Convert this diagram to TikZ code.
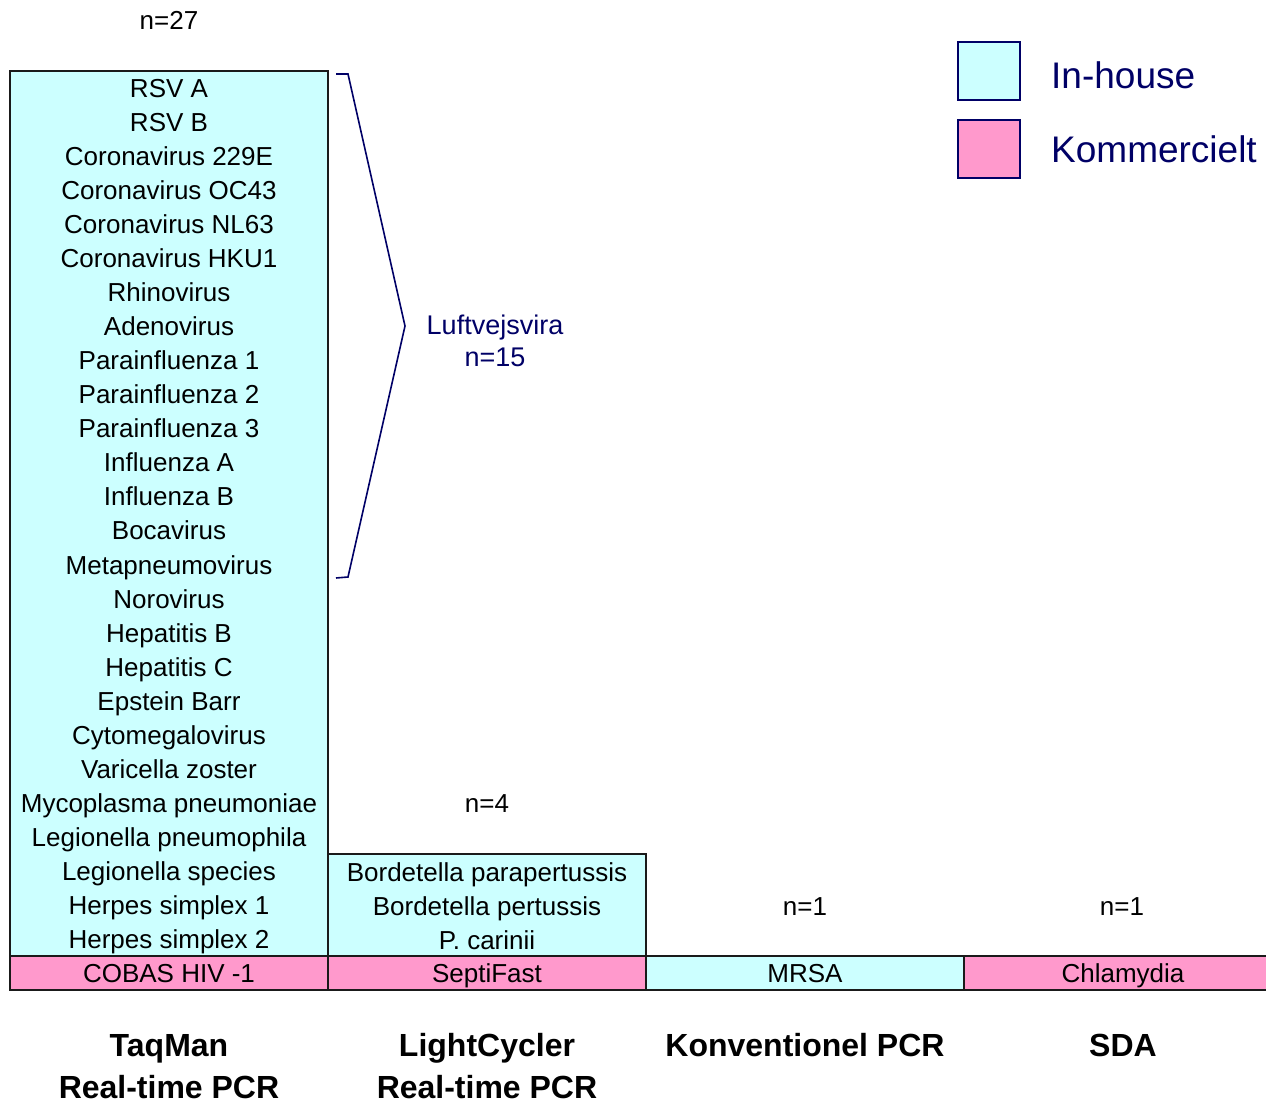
\documentclass[tikz,border=0pt]{standalone}
\usepackage{fontspec}
\setmainfont{Liberation Sans}
\definecolor{inhouse}{HTML}{CCFFFF}
\definecolor{komm}{HTML}{FF99CC}
\definecolor{navyc}{HTML}{000066}
\definecolor{edge}{HTML}{1A1A1A}
\begin{document}
\begin{tikzpicture}[x=1pt,y=-1pt,
  cell/.style={draw=edge,line width=1.6pt,inner sep=0pt,outer sep=0pt},
  item/.style={font=\fontsize{26}{30}\selectfont,text=black,inner sep=0pt,anchor=base},
  count/.style={font=\fontsize{26}{30}\selectfont,text=black,inner sep=0pt,anchor=base},
  method/.style={font=\bfseries\fontsize{32}{42}\selectfont,align=center,inner sep=0pt,anchor=base},
  legbox/.style={draw=navyc,line width=1.6pt,minimum width=62pt,minimum height=58pt,inner sep=0pt},
  legtext/.style={font=\fontsize{37}{40}\selectfont,text=navyc,anchor=base west,inner sep=0pt}]
\useasboundingbox (0,0) rectangle (1266,1103);
% column boxes
\path[cell,fill=inhouse] (10,71) rectangle (328,956);
\path[cell,fill=komm] (10,956) rectangle (328,990);
\path[cell,fill=inhouse] (328,854) rectangle (646,956);
\path[cell,fill=komm] (328,956) rectangle (646,990);
\path[cell,fill=inhouse] (646,956) rectangle (964,990);
\path[cell,fill=komm] (964,956) rectangle (1272,990);
% column 1 items
\foreach \t [count=\i from 0] in {RSV A,RSV B,Coronavirus 229E,Coronavirus OC43,Coronavirus NL63,Coronavirus HKU1,Rhinovirus,Adenovirus,Parainfluenza 1,Parainfluenza 2,Parainfluenza 3,Influenza A,Influenza B,Bocavirus,Metapneumovirus,Norovirus,Hepatitis B,Hepatitis C,Epstein Barr,Cytomegalovirus,Varicella zoster,Mycoplasma pneumoniae,Legionella pneumophila,Legionella species,Herpes simplex 1,Herpes simplex 2}
  \node[item] (a\i) at (169,{97.3+34.05*\i}) {\t};
\node[item] (a26) at (169,982.3) {COBAS HIV -1};
% column 2 items
\node[item] (b0) at (487,881.3) {Bordetella parapertussis};
\node[item] (b1) at (487,915.3) {Bordetella pertussis};
\node[item] (b2) at (487,949.3) {P. carinii};
\node[item] (b3) at (487,982.3) {SeptiFast};
% column 3 and 4
\node[item] (c0) at (805,982.3) {MRSA};
\node[item] (d0) at (1123,982.3) {Chlamydia};
% counts
\node[count] (n1) at (169,29.3) {n=27};
\node[count] (n2) at (487,812.3) {n=4};
\node[count] (n3) at (805,915.3) {n=1};
\node[count] (n4) at (1122,915.3) {n=1};
% methods
\node[method] (m1) at (169,1056) {TaqMan};
\node[method] (m1b) at (169,1098) {Real-time PCR};
\node[method] (m2) at (487,1056) {LightCycler};
\node[method] (m2b) at (487,1098) {Real-time PCR};
\node[method] (m3) at (805,1056) {Konventionel PCR};
\node[method] (m4) at (1123,1056) {SDA};
% brace
\coordinate (br1) at (336,74);
\coordinate (br2) at (348,74);
\coordinate (brt) at (405,326);
\coordinate (br3) at (348,577);
\coordinate (br4) at (336,578);
\draw[navyc,line width=1.6pt,line join=miter] (br1) -- (br2) -- (brt) -- (br3) -- (br4);
\node[font=\fontsize{27}{32}\selectfont,text=navyc,inner sep=0pt,anchor=base] (lv) at (495,334.5) {Luftvejsvira};
\node[font=\fontsize{27}{32}\selectfont,text=navyc,inner sep=0pt,anchor=base] (lv2) at (495,366.5) {n=15};
% legend
\node[legbox,fill=inhouse] (l1) at (989,71) {};
\node[legbox,fill=komm] (l2) at (989,149) {};
\node[legtext] (lt1) at (1051,88.3) {In-house};
\node[legtext] (lt2) at (1051,162.3) {Kommercielt};
\end{tikzpicture}
\end{document}
